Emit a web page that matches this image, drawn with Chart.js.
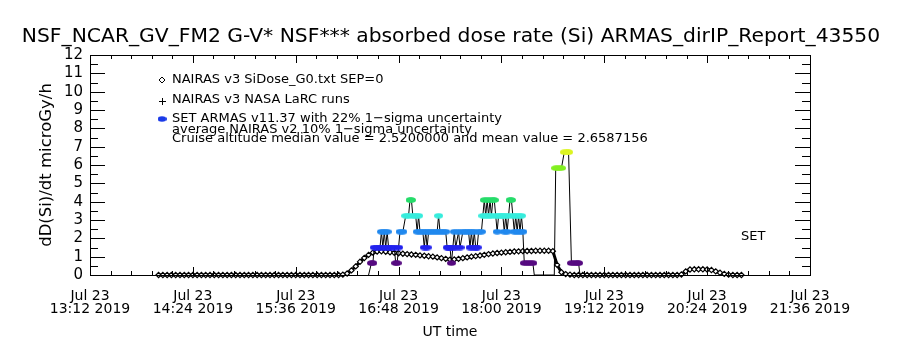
<!DOCTYPE html>
<html>
<head>
<meta charset="utf-8">
<script src="https://cdn.jsdelivr.net/npm/chart.js@4.4.1/dist/chart.umd.min.js"></script>
<style>
  html, body { margin: 0; padding: 0; background: #fff; }
  #wrap { width: 900px; height: 350px; }
</style>
</head>
<body>
<div id="wrap"><canvas id="doseChart" width="900" height="350"></canvas></div>
<script>
// --- data (x = minutes after 00:00 UT, Jul 23 2019) ---
const TITLE = 'NSF_NCAR_GV_FM2 G-V* NSF*** absorbed dose rate (Si) ARMAS_dirIP_Report_43550';
const X_TICKS = [792, 864, 936, 1008, 1080, 1152, 1224, 1296];
const X_TICK_LABELS = [
  ['Jul 23', '13:12 2019'], ['Jul 23', '14:24 2019'], ['Jul 23', '15:36 2019'], ['Jul 23', '16:48 2019'],
  ['Jul 23', '18:00 2019'], ['Jul 23', '19:12 2019'], ['Jul 23', '20:24 2019'], ['Jul 23', '21:36 2019']
];
const Y_TICKS = [0, 1, 2, 3, 4, 5, 6, 7, 8, 9, 10, 11, 12];

// NAIRAS v3 SiDose_G0 model curve
const nairasTime = [
  840, 843, 846, 849, 852, 855, 858, 861, 864, 867, 870, 873, 876, 879, 882, 885, 888, 891, 894, 897,
  900, 903, 906, 909, 912, 915, 918, 921, 924, 927, 930, 933, 936, 939, 942, 945, 948, 951, 954, 957,
  960, 963, 966, 969, 972, 975, 978, 981, 984, 987, 990, 993, 996, 999, 1002, 1005, 1008, 1011, 1014, 1017,
  1020, 1023, 1026, 1029, 1032, 1035, 1038, 1041, 1044, 1047, 1050, 1053, 1056, 1059, 1062, 1065, 1068, 1071, 1074, 1077,
  1080, 1083, 1086, 1089, 1092, 1095, 1098, 1101, 1104, 1107, 1110, 1113, 1116, 1119, 1122, 1125, 1128, 1131, 1134, 1137,
  1140, 1143, 1146, 1149, 1152, 1155, 1158, 1161, 1164, 1167, 1170, 1173, 1176, 1179, 1182, 1185, 1188, 1191, 1194, 1197,
  1200, 1203, 1206, 1209, 1212, 1215, 1218, 1221, 1224, 1227, 1230, 1233, 1236, 1239, 1242, 1245, 1248
];
const nairasDose = [
  0, 0, 0, 0, 0, 0, 0, 0, 0, 0, 0, 0, 0, 0, 0, 0, 0, 0, 0, 0,
  0, 0, 0, 0, 0, 0, 0, 0, 0, 0, 0, 0, 0, 0, 0, 0, 0, 0, 0, 0,
  0, 0, 0, 0.02, 0.08, 0.25, 0.47, 0.72, 0.93, 1.1, 1.22, 1.28, 1.29, 1.27, 1.24, 1.21, 1.19, 1.16, 1.14, 1.12,
  1.1, 1.07, 1.05, 1.02, 1.0, 0.96, 0.92, 0.88, 0.84, 0.85, 0.88, 0.92, 0.96, 1.0, 1.03, 1.06, 1.1, 1.14, 1.17, 1.2,
  1.22, 1.24, 1.26, 1.28, 1.29, 1.3, 1.31, 1.31, 1.32, 1.32, 1.32, 1.32, 1.3, 0.55, 0.15, 0.05, 0.02, 0, 0, 0,
  0, 0, 0, 0, 0, 0, 0, 0, 0, 0, 0, 0, 0, 0, 0, 0, 0, 0, 0, 0,
  0, 0, 0.03, 0.2, 0.3, 0.31, 0.31, 0.31, 0.3, 0.27, 0.2, 0.12, 0.06, 0.02, 0, 0, 0
];

// SET ARMAS v11.37 measurements
const armasTime = [
  987, 989, 990, 991, 993, 995, 996, 997, 998, 999, 1000, 1001, 1003, 1005, 1006, 1007, 1008, 1009, 1011, 1013,
  1015, 1016, 1017, 1018, 1020, 1021, 1022, 1023, 1025, 1026, 1027, 1028, 1029, 1031, 1033, 1035, 1036, 1037, 1039, 1041,
  1042, 1043, 1044, 1045, 1046, 1047, 1048, 1050, 1051, 1053, 1055, 1057, 1058, 1059, 1060, 1061, 1062, 1063, 1064, 1066,
  1067, 1068, 1069, 1070, 1071, 1072, 1073, 1074, 1075, 1076, 1077, 1078, 1080, 1081, 1082, 1083, 1084, 1085, 1086, 1087,
  1088, 1089, 1090, 1091, 1092, 1093, 1094, 1095, 1096, 1098, 1100, 1102, 1103, 1110, 1117, 1118, 1120, 1122, 1124, 1126,
  1127, 1129, 1131, 1133, 1134, 1135
];
const armasDose = [
  0, 0.65, 0.65, 1.5, 1.5, 1.5, 2.36, 1.5, 2.36, 1.5, 2.36, 1.5, 1.5, 1.5, 0.65, 0.65, 1.5, 2.36, 2.36, 3.23,
  3.23, 4.09, 4.09, 3.23, 3.23, 2.36, 3.23, 2.36, 2.36, 1.5, 2.36, 1.5, 2.36, 2.36, 2.36, 2.36, 3.23, 2.36, 2.36, 2.36,
  1.5, 1.5, 1.5, 0.65, 1.5, 2.36, 1.5, 2.36, 1.5, 2.36, 2.36, 2.36, 1.5, 2.36, 1.5, 2.36, 1.5, 1.5, 2.36, 2.36,
  3.23, 4.09, 3.23, 4.09, 3.23, 4.09, 3.23, 4.09, 4.09, 3.23, 2.36, 3.23, 3.23, 3.23, 2.36, 3.23, 2.36, 3.23, 4.09, 4.09,
  3.23, 2.36, 3.23, 2.36, 3.23, 2.36, 3.23, 2.36, 0.65, 0.65, 0.65, 0.65, 0, 0, 0, 5.83, 5.83, 5.83, 6.7, 6.7,
  6.7, 0.65, 0.65, 0.65, 0.65, 0
];

const LEGEND_LINES = [
  'NAIRAS v3 SiDose_G0.txt SEP=0',
  'NAIRAS v3 NASA LaRC runs',
  'SET ARMAS v11.37 with 22% 1\u2212sigma uncertainty',
  'average NAIRAS v2 10% 1\u2212sigma uncertainty',
  'Cruise altitude median value = 2.5200000 and mean value = 2.6587156'
];

const FONT = 'DejaVu Sans';

// colour table for ARMAS markers (low = violet ... high = yellow)
function doseColor(v) {
  if (v < 1) return '#560a80';
  if (v < 2) return '#2222ee';
  if (v < 3) return '#2088ee';
  if (v < 3.8) return '#36ecdc';
  if (v < 5) return '#26dc6a';
  if (v < 6.3) return '#82f020';
  return '#dcf420';
}

// small filled ellipse used as marker
const dotCache = {};
function dot(color) {
  if (dotCache[color]) return dotCache[color];
  const c = document.createElement('canvas');
  c.width = 9; c.height = 6;
  const g = c.getContext('2d');
  g.fillStyle = color;
  g.beginPath();
  g.ellipse(4.5, 3, 4.5, 2.8, 0, 0, Math.PI * 2);
  g.fill();
  dotCache[color] = c;
  return c;
}

// box + inward IDL-like tick marks, title, legend and SET label
const framePlugin = {
  id: 'frame',
  afterDatasetsDraw(chart) {
    const { ctx, chartArea: a, scales: { x, y } } = chart;
    ctx.save();
    ctx.strokeStyle = '#000';
    ctx.lineWidth = 1;
    ctx.strokeRect(Math.round(a.left) + 0.5, Math.round(a.top) + 0.5,
      Math.round(a.right - a.left), Math.round(a.bottom - a.top));
    ctx.beginPath();
    for (let i = 0; i <= 35; i++) {
      const px = Math.round(x.getPixelForValue(792 + i * 14.4)) + 0.5;
      const len = i % 5 === 0 ? 8 : 4;
      ctx.moveTo(px, a.bottom); ctx.lineTo(px, a.bottom - len);
      ctx.moveTo(px, a.top); ctx.lineTo(px, a.top + len);
    }
    for (let i = 0; i <= 24; i++) {
      const py = Math.round(y.getPixelForValue(i * 0.5)) + 0.5;
      const len = i % 2 === 0 ? 15 : 8;
      ctx.moveTo(a.left, py); ctx.lineTo(a.left + len, py);
      ctx.moveTo(a.right, py); ctx.lineTo(a.right - len, py);
    }
    ctx.stroke();

    // title
    ctx.fillStyle = '#000';
    ctx.textBaseline = 'middle';
    ctx.textAlign = 'center';
    ctx.font = '20.3px "' + FONT + '"';
    ctx.fillText(TITLE, 451, 37);

    // legend
    const lx = 172, mx = 162;
    const rows = [80, 100, 119, 130, 139];
    ctx.font = '13px "' + FONT + '"';
    ctx.textAlign = 'left';
    LEGEND_LINES.forEach((t, i) => ctx.fillText(t, lx, rows[i]));
    // diamond
    ctx.beginPath();
    ctx.moveTo(mx, rows[0] - 3); ctx.lineTo(mx + 3, rows[0]); ctx.lineTo(mx, rows[0] + 3); ctx.lineTo(mx - 3, rows[0]); ctx.closePath();
    ctx.fillStyle = '#fff'; ctx.fill(); ctx.stroke();
    // plus
    ctx.beginPath();
    ctx.moveTo(mx - 3, rows[1] + 1.5); ctx.lineTo(mx + 4, rows[1] + 1.5);
    ctx.moveTo(mx + 0.5, rows[1] - 2); ctx.lineTo(mx + 0.5, rows[1] + 5);
    ctx.stroke();
    // blue dot
    ctx.drawImage(dot('#1a3ae8'), mx - 4.5, rows[2] - 3);

    ctx.fillStyle = '#000';
    ctx.font = '13px "' + FONT + '"';
    ctx.fillText('SET', 741, 237);
    ctx.restore();
  }
};

const ctx = document.getElementById('doseChart').getContext('2d');
new Chart(ctx, {
  type: 'line',
  data: {
    datasets: [
      {
        label: 'NAIRAS v3 SiDose_G0.txt SEP=0',
        data: nairasTime.map((t, i) => ({ x: t, y: nairasDose[i] })),
        borderColor: '#000',
        borderWidth: 3,
        pointStyle: 'rectRot',
        pointRadius: 2.6,
        pointBorderWidth: 1.2,
        pointBorderColor: '#000',
        pointBackgroundColor: '#fff',
        clip: false,
        order: 2
      },
      {
        label: 'SET ARMAS v11.37',
        data: armasTime.map((t, i) => ({ x: t, y: armasDose[i] })),
        borderColor: '#000',
        borderWidth: 1,
        pointStyle: c => dot(doseColor(c.raw.y)),
        pointRadius: c => (c.raw.y > 0 ? 4 : 0),
        clip: false,
        order: 1
      }
    ]
  },
  options: {
    responsive: false,
    animation: false,
    events: [],
    layout: { padding: { left: 0, right: 90, top: 55, bottom: 0 } },
    plugins: {
      legend: { display: false },
      tooltip: { enabled: false },
      title: { display: false }
    },
    scales: {
      x: {
        type: 'linear',
        min: 792,
        max: 1296,
        afterBuildTicks: s => { s.ticks = X_TICKS.map(v => ({ value: v })); },
        afterFit: s => { s.height = 75; },
        grid: { display: false, drawTicks: false },
        border: { display: false },
        ticks: {
          autoSkip: false,
          maxRotation: 0,
          padding: 15,
          color: '#000',
          font: { family: FONT, size: 14, lineHeight: 0.93 },
          callback: (v, i) => X_TICK_LABELS[i]
        },
        title: {
          display: true,
          text: 'UT time',
          color: '#000',
          font: { family: FONT, size: 14 },
          padding: { top: 0, bottom: 9 }
        }
      },
      y: {
        min: 0,
        max: 12,
        afterBuildTicks: s => { s.ticks = Y_TICKS.map(v => ({ value: v })); },
        afterFit: s => { s.width = 90; },
        grid: { display: false, drawTicks: false },
        border: { display: false },
        ticks: {
          autoSkip: false,
          padding: 7,
          color: '#000',
          font: { family: FONT, size: 15 }
        },
        title: {
          display: true,
          text: 'dD(Si)/dt microGy/h',
          color: '#000',
          font: { family: FONT, size: 16.5 },
          padding: { top: 37, bottom: 0 }
        }
      }
    }
  },
  plugins: [framePlugin]
});
</script>
</body>
</html>
